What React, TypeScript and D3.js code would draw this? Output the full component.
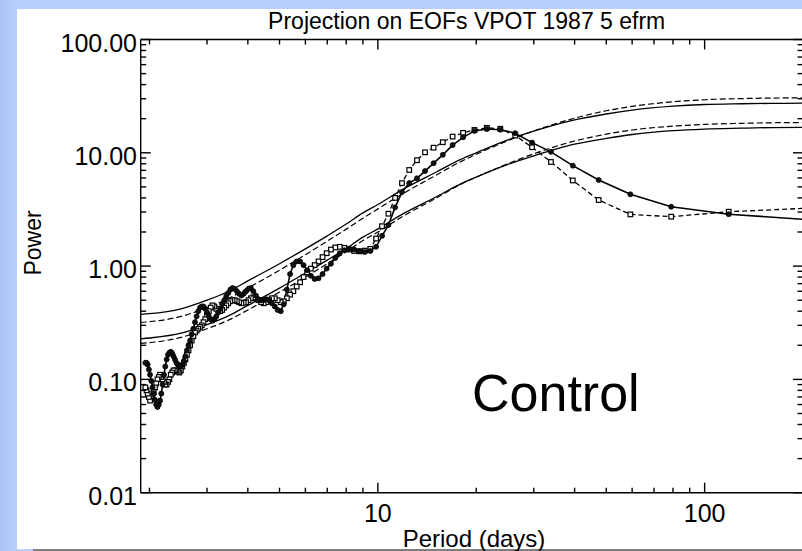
import React from 'react';
import * as d3 from 'd3';

// ---------- data ----------
const SMOOTH_PERIODS = [1.88, 2, 2.5, 3, 3.5, 4, 5, 6, 7, 8, 9, 10, 12, 15, 18, 20, 25, 30, 40, 50, 60, 80, 100, 130, 160, 200];
const UPPER_SOLID = [0.375, 0.38, 0.42, 0.5, 0.6, 0.74, 1.05, 1.42, 1.85, 2.35, 2.95, 3.5, 4.8, 6.7, 8.8, 10.0, 13.0, 15.5, 19.5, 22.0, 23.8, 25.8, 26.7, 27.1, 27.3, 27.4];
const UPPER_DASHED = [0.318, 0.323, 0.36, 0.43, 0.52, 0.64, 0.92, 1.26, 1.66, 2.12, 2.65, 3.2, 4.4, 6.3, 8.4, 9.7, 12.8, 15.6, 20.2, 23.5, 25.7, 28.2, 29.4, 30.1, 30.4, 30.6];
const LOWER_SOLID = [0.228, 0.232, 0.256, 0.305, 0.366, 0.45, 0.64, 0.87, 1.13, 1.43, 1.8, 2.13, 2.92, 4.05, 5.35, 6.1, 7.9, 9.4, 11.9, 13.4, 14.5, 15.7, 16.2, 16.5, 16.7, 16.8];
const LOWER_DASHED = [0.208, 0.211, 0.235, 0.28, 0.335, 0.41, 0.59, 0.8, 1.05, 1.34, 1.68, 2.0, 2.78, 3.95, 5.3, 6.1, 8.0, 9.8, 12.7, 14.6, 15.9, 17.2, 17.8, 18.2, 18.4, 18.5];

const SPEC_PERIODS = [
  237, 118.5, 79, 59.25, 47.4, 39.5, 33.86, 29.63, 26.33, 23.7, 21.55, 19.75, 18.23, 16.93, 15.8, 14.81,
  13.94, 13.17, 12.47, 11.85, 11.29, 10.77, 10.3, 9.875,
  9.48, 9.115, 8.778, 8.464, 8.172, 7.9, 7.645, 7.406, 7.182, 6.971, 6.771, 6.583, 6.405, 6.237, 6.077, 5.925,
  5.78, 5.643, 5.512, 5.386, 5.267, 5.152, 5.043, 4.9375, 4.837, 4.74, 4.647, 4.558, 4.472, 4.389, 4.309, 4.232,
  4.158, 4.086, 4.017, 3.95,
  3.885, 3.823, 3.762, 3.703, 3.646, 3.591, 3.537, 3.485, 3.435, 3.386, 3.338, 3.292, 3.247, 3.203, 3.16, 3.118,
  3.078, 3.038, 3.0, 2.963, 2.926, 2.89, 2.855, 2.821, 2.788, 2.756, 2.724, 2.693, 2.663, 2.633, 2.604, 2.576,
  2.548, 2.521, 2.495, 2.469, 2.443, 2.418, 2.394, 2.37, 2.347, 2.324, 2.301, 2.279, 2.257, 2.236, 2.215, 2.194,
  2.174, 2.155, 2.135, 2.116, 2.097, 2.079, 2.061, 2.043, 2.026, 2.008, 1.992, 1.975, 1.959, 1.943,
];
const SPEC_SOLID = [
  2.5, 2.87, 3.34, 4.3, 5.75, 7.7, 10.2, 12.3, 14.9, 16.0, 16.2, 15.6, 13.7, 11.7, 9.6, 8.1,
  6.9, 5.95, 5.4, 4.5, 3.3, 2.3, 1.85, 1.48,
  1.36, 1.33, 1.36, 1.4, 1.42, 1.38, 1.3, 1.18, 1.05, 0.95, 0.85, 0.78, 0.77, 0.82, 0.92, 1.02,
  1.1, 1.1, 1.02, 0.85, 0.62, 0.46, 0.4, 0.41, 0.44, 0.47, 0.5, 0.51, 0.5, 0.5, 0.51, 0.55,
  0.6, 0.64, 0.63, 0.6,
  0.57, 0.55, 0.57, 0.6, 0.63, 0.64, 0.62, 0.58, 0.54, 0.5, 0.46, 0.42, 0.39, 0.36, 0.34, 0.33,
  0.34, 0.36, 0.39, 0.42, 0.44, 0.44, 0.43, 0.4, 0.36, 0.32, 0.28, 0.25, 0.22, 0.2, 0.18, 0.16,
  0.145, 0.135, 0.13, 0.13, 0.135, 0.14, 0.15, 0.16, 0.17, 0.175, 0.172, 0.165, 0.15, 0.13, 0.11, 0.09,
  0.075, 0.065, 0.06, 0.057, 0.06, 0.066, 0.075, 0.085, 0.097, 0.11, 0.122, 0.135, 0.14, 0.14,
];
const SPEC_DASHED = [
  3.3, 3.02, 2.73, 2.86, 3.83, 5.7, 8.3, 11.2, 14.2, 16.3, 16.6, 15.9, 15.0, 13.9, 12.4, 11.1,
  10.1, 8.6, 7.05, 5.4, 4.0, 2.9, 2.25, 1.75,
  1.42, 1.37, 1.35, 1.36, 1.4, 1.45, 1.48, 1.46, 1.4, 1.3, 1.2, 1.1, 1.02, 0.95, 0.88, 0.8,
  0.72, 0.66, 0.6, 0.56, 0.52, 0.49, 0.48, 0.5, 0.52, 0.52, 0.5, 0.48, 0.47, 0.48, 0.5, 0.52,
  0.53, 0.52, 0.5, 0.48,
  0.475, 0.47, 0.48, 0.49, 0.5, 0.5, 0.49, 0.47, 0.45, 0.43, 0.41, 0.4, 0.41, 0.42, 0.44, 0.45,
  0.43, 0.4, 0.37, 0.34, 0.32, 0.3, 0.29, 0.28, 0.27, 0.26, 0.24, 0.22, 0.2, 0.18, 0.165, 0.15,
  0.14, 0.13, 0.12, 0.115, 0.117, 0.12, 0.12, 0.12, 0.115, 0.11, 0.1, 0.095, 0.09, 0.09, 0.095, 0.1,
  0.105, 0.11, 0.105, 0.1, 0.092, 0.085, 0.077, 0.07, 0.067, 0.065, 0.07, 0.075, 0.08, 0.085,
];

const Y_TICKS = [0.01, 0.1, 1, 10, 100];
const X_TICKS = [10, 100];
const TITLE = 'Projection on EOFs VPOT 1987 5 efrm';
const X_LABEL = 'Period (days)';
const Y_LABEL = 'Power';
const NOTE = 'Control';

const FONT = '"Liberation Sans", Arial, Helvetica, sans-serif';

export default function App() {
  const W = 802, H = 551;
  const left = 140.7, right = 803, top = 39.5, bottom = 492.7;
  const x = d3.scaleLog().domain([1.88, 200]).range([left, right]);
  const y = d3.scaleLog().domain([0.01, 100]).range([bottom, top]);

  const smoothLine = (vals: number[]) =>
    d3.line<number>().x((_, i) => x(SMOOTH_PERIODS[i])).y((v) => y(v)).curve(d3.curveMonotoneX)(vals) || '';
  const specLine = (vals: number[]) =>
    d3.line<number>().x((_, i) => x(SPEC_PERIODS[i])).y((v) => y(v))(vals) || '';

  const yMinor: number[] = [];
  for (let e = -2; e < 2; e++) for (let m = 2; m <= 9; m++) yMinor.push(m * Math.pow(10, e));
  const xMinor: number[] = [];
  for (let e = 0; e <= 2; e++) for (let m = 1; m <= 9; m++) {
    const v = m * Math.pow(10, e);
    if (v >= 1.88 && v <= 200 && !X_TICKS.includes(v)) xMinor.push(v);
  }

  const inDomain = (p: number) => p >= 1.88 && p <= 200;

  return (
    <svg width={W} height={H} style={{ position: 'absolute', left: 0, top: 0 }} fontFamily={FONT}>
      <defs>
        <linearGradient id="bgGrad" x1="0" x2="1" y1="0" y2="0">
          <stop offset="0" stopColor="#a9c4f7" />
          <stop offset="1" stopColor="#b9cffb" />
        </linearGradient>
        <clipPath id="plotClip">
          <rect x={left} y={top} width={right - left} height={bottom - top} />
        </clipPath>
      </defs>
      <rect x={0} y={0} width={W} height={H} fill="#b7cdfb" />
      <rect x={0} y={0} width={17} height={H} fill="url(#bgGrad)" />
      <rect x={17} y={9} width={W - 17} height={540} fill="#ffffff" />
      <rect x={33} y={549} width={W - 33} height={2} fill="#7f7f7f" />

      <text x={466.7} y={29} fontSize={23} textAnchor="middle" fill="#000">{TITLE}</text>

      <g clipPath="url(#plotClip)" fill="none" stroke="#000">
        <path d={smoothLine(UPPER_SOLID)} strokeWidth={1.3} />
        <path d={smoothLine(UPPER_DASHED)} strokeWidth={1.2} strokeDasharray="6,3" />
        <path d={smoothLine(LOWER_SOLID)} strokeWidth={1.3} />
        <path d={smoothLine(LOWER_DASHED)} strokeWidth={1.2} strokeDasharray="6,3" />
        <path d={specLine(SPEC_DASHED)} strokeWidth={1.3} strokeDasharray="5,3" />
        <path d={specLine(SPEC_SOLID)} strokeWidth={1.6} />
        {SPEC_PERIODS.map((p, i) =>
          inDomain(p) ? (
            <rect key={'b' + i} x={x(p) - 2.3} y={y(SPEC_DASHED[i]) - 2.3} width={4.6} height={4.6}
              fill="#fff" stroke="#000" strokeWidth={1.2} />
          ) : null
        )}
        {SPEC_PERIODS.map((p, i) =>
          inDomain(p) ? (
            <circle key={'a' + i} cx={x(p)} cy={y(SPEC_SOLID[i])} r={2.5} fill="#111" stroke="#000" strokeWidth={0.8} />
          ) : null
        )}
      </g>

      {/* axes frame */}
      <g stroke="#000" strokeWidth={1.4}>
        <line x1={left} x2={right} y1={top} y2={top} />
        <line x1={left} x2={right} y1={bottom} y2={bottom} />
        <line x1={left} x2={left} y1={top} y2={bottom} />
        <line x1={right} x2={right} y1={top} y2={bottom} />
        {Y_TICKS.map((v) => (
          <g key={'ym' + v}>
            <line x1={left} x2={left + 10} y1={y(v)} y2={y(v)} />
            <line x1={right} x2={right - 10} y1={y(v)} y2={y(v)} />
          </g>
        ))}
        {yMinor.map((v) => (
          <g key={'yn' + v}>
            <line x1={left} x2={left + 5.5} y1={y(v)} y2={y(v)} />
            <line x1={right} x2={right - 5.5} y1={y(v)} y2={y(v)} />
          </g>
        ))}
        {X_TICKS.map((v) => (
          <g key={'xm' + v}>
            <line x1={x(v)} x2={x(v)} y1={bottom} y2={bottom - 10} />
            <line x1={x(v)} x2={x(v)} y1={top} y2={top + 10} />
          </g>
        ))}
        {xMinor.map((v) => (
          <g key={'xn' + v}>
            <line x1={x(v)} x2={x(v)} y1={bottom} y2={bottom - 5} />
            <line x1={x(v)} x2={x(v)} y1={top} y2={top + 5} />
          </g>
        ))}
      </g>

      {Y_TICKS.map((v) => (
        <text key={'yl' + v} x={137} y={y(v) + 12} fontSize={25} textAnchor="end" fill="#000">
          {d3.format('.2f')(v)}
        </text>
      ))}
      {X_TICKS.map((v) => (
        <text key={'xl' + v} x={x(v)} y={522} fontSize={25} textAnchor="middle" fill="#000">
          {v}
        </text>
      ))}
      <text x={474} y={547} fontSize={24} textAnchor="middle" fill="#000">{X_LABEL}</text>
      <text transform="translate(41,243) rotate(-90)" fontSize={23} textAnchor="middle" fill="#000">{Y_LABEL}</text>
      <text x={472} y={411} fontSize={52} fill="#000">{NOTE}</text>
    </svg>
  );
}
